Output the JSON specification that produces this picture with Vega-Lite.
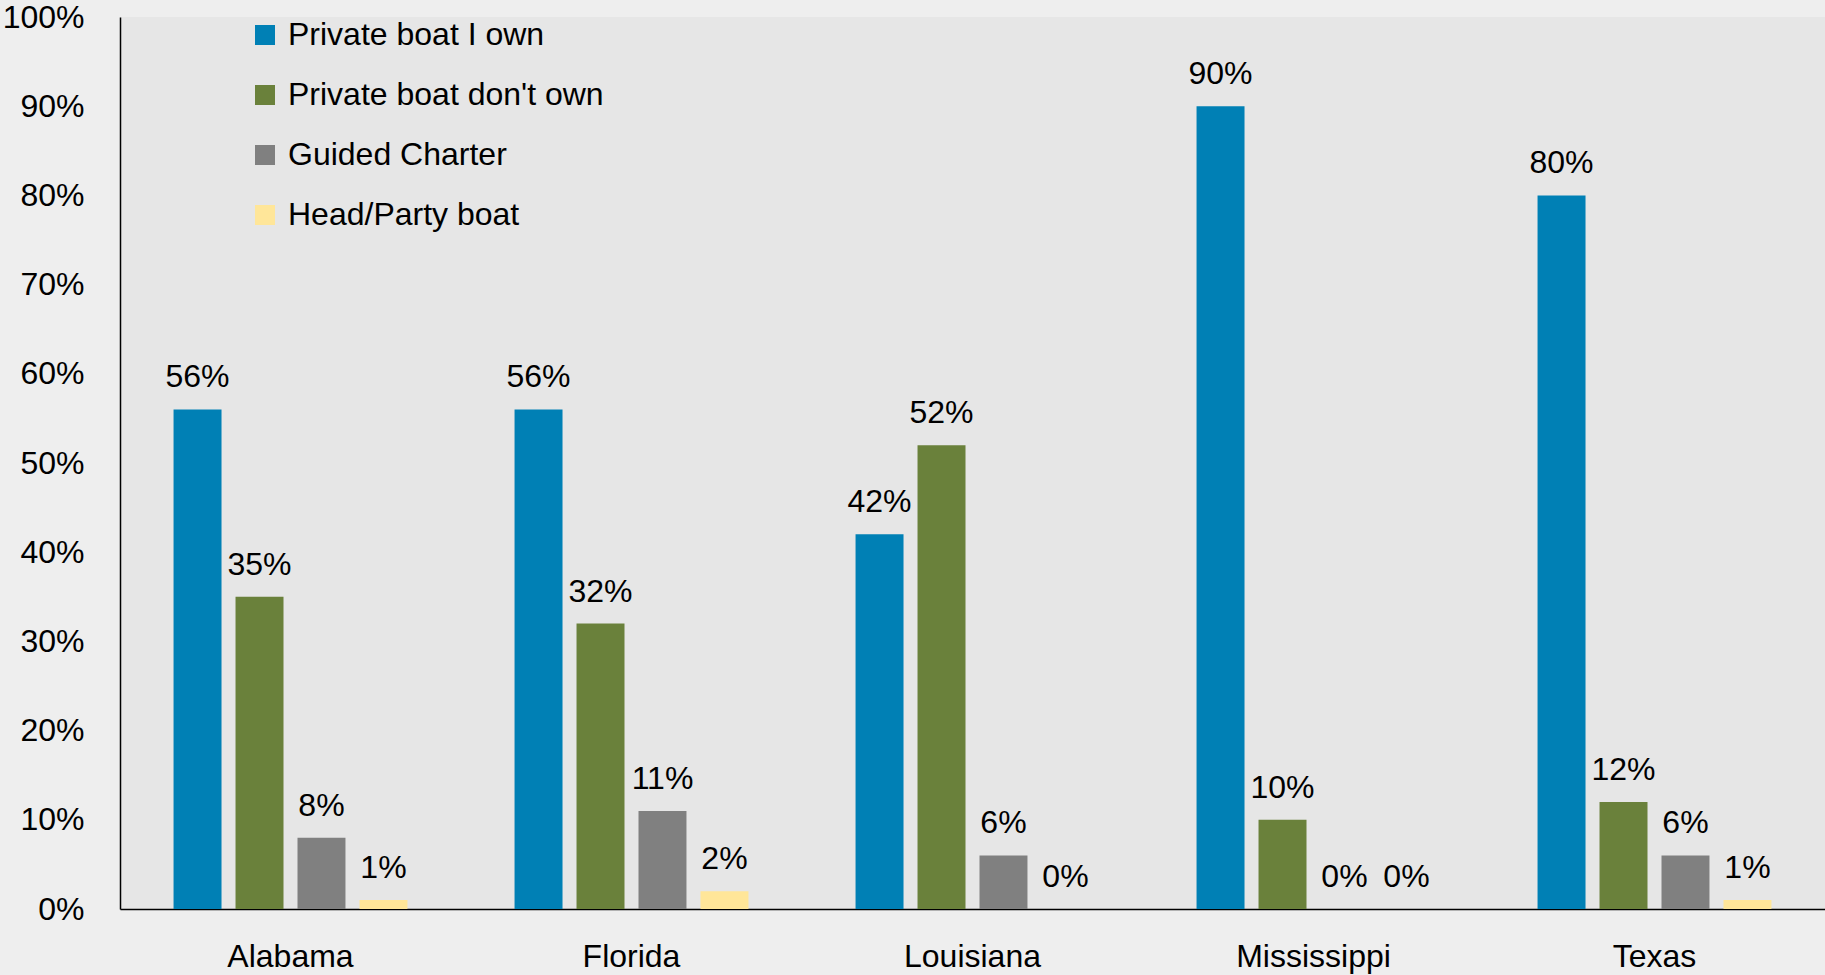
{
  "$schema": "https://vega.github.io/schema/vega-lite/v6.json",
  "autosize": {"type": "none"},
  "width": 1705,
  "height": 892,
  "padding": {"left": 120, "top": 17, "right": 0, "bottom": 66},
  "background": "#EEEEEE",
  "config": {
    "view": {"fill": "#E6E6E6", "stroke": null},
    "font": "Liberation Sans",
    "axis": {"labelFont": "Liberation Sans", "labelColor": "#000000", "labelFontSize": 32, "grid": false, "ticks": false, "domainColor": "#000000", "domainWidth": 1.5, "title": null},
    "legend": {"labelFont": "Liberation Sans", "labelFontSize": 32, "labelColor": "#000000", "labelLimit": 0}
  },
  "data": {
    "values": [
      {"state": "Alabama", "mode": "Private boat I own", "value": 0.56},
      {"state": "Alabama", "mode": "Private boat don't own", "value": 0.35},
      {"state": "Alabama", "mode": "Guided Charter", "value": 0.08},
      {"state": "Alabama", "mode": "Head/Party boat", "value": 0.01},
      {"state": "Florida", "mode": "Private boat I own", "value": 0.56},
      {"state": "Florida", "mode": "Private boat don't own", "value": 0.32},
      {"state": "Florida", "mode": "Guided Charter", "value": 0.11},
      {"state": "Florida", "mode": "Head/Party boat", "value": 0.02},
      {"state": "Louisiana", "mode": "Private boat I own", "value": 0.42},
      {"state": "Louisiana", "mode": "Private boat don't own", "value": 0.52},
      {"state": "Louisiana", "mode": "Guided Charter", "value": 0.06},
      {"state": "Louisiana", "mode": "Head/Party boat", "value": 0.0},
      {"state": "Mississippi", "mode": "Private boat I own", "value": 0.90},
      {"state": "Mississippi", "mode": "Private boat don't own", "value": 0.10},
      {"state": "Mississippi", "mode": "Guided Charter", "value": 0.0},
      {"state": "Mississippi", "mode": "Head/Party boat", "value": 0.0},
      {"state": "Texas", "mode": "Private boat I own", "value": 0.80},
      {"state": "Texas", "mode": "Private boat don't own", "value": 0.12},
      {"state": "Texas", "mode": "Guided Charter", "value": 0.06},
      {"state": "Texas", "mode": "Head/Party boat", "value": 0.01}
    ]
  },
  "encoding": {
    "x": {
      "field": "state", "type": "nominal", "sort": null,
      "scale": {"paddingInner": 0.273, "paddingOuter": 0.1365},
      "axis": {"labelAngle": 0, "labelPadding": 32, "orient": "bottom"}
    },
    "xOffset": {
      "field": "mode", "type": "nominal",
      "sort": ["Private boat I own", "Private boat don't own", "Guided Charter", "Head/Party boat"],
      "scale": {"paddingInner": 0.226, "paddingOuter": 0.113}
    },
    "y": {
      "field": "value", "type": "quantitative",
      "scale": {"domain": [0, 1], "nice": false},
      "axis": {"format": ".0%", "values": [0, 0.1, 0.2, 0.3, 0.4, 0.5, 0.6, 0.7, 0.8, 0.9, 1.0], "labelPadding": 36}
    }
  },
  "layer": [
    {
      "mark": {"type": "bar"},
      "encoding": {
        "color": {
          "field": "mode", "type": "nominal",
          "sort": ["Private boat I own", "Private boat don't own", "Guided Charter", "Head/Party boat"],
          "scale": {
            "domain": ["Private boat I own", "Private boat don't own", "Guided Charter", "Head/Party boat"],
            "range": ["#0080B5", "#6A813B", "#808080", "#FFE699"]
          },
          "legend": {
            "title": null, "orient": "none", "legendX": 129, "legendY": 2,
            "symbolType": "square", "symbolSize": 400, "symbolStrokeWidth": 0,
            "rowPadding": 28, "labelOffset": 7
          }
        }
      }
    },
    {
      "mark": {"type": "text", "baseline": "alphabetic", "dy": -22, "fontSize": 32, "color": "#000000", "font": "Liberation Sans"},
      "encoding": {
        "text": {"field": "value", "type": "quantitative", "format": ".0%"}
      }
    }
  ]
}
